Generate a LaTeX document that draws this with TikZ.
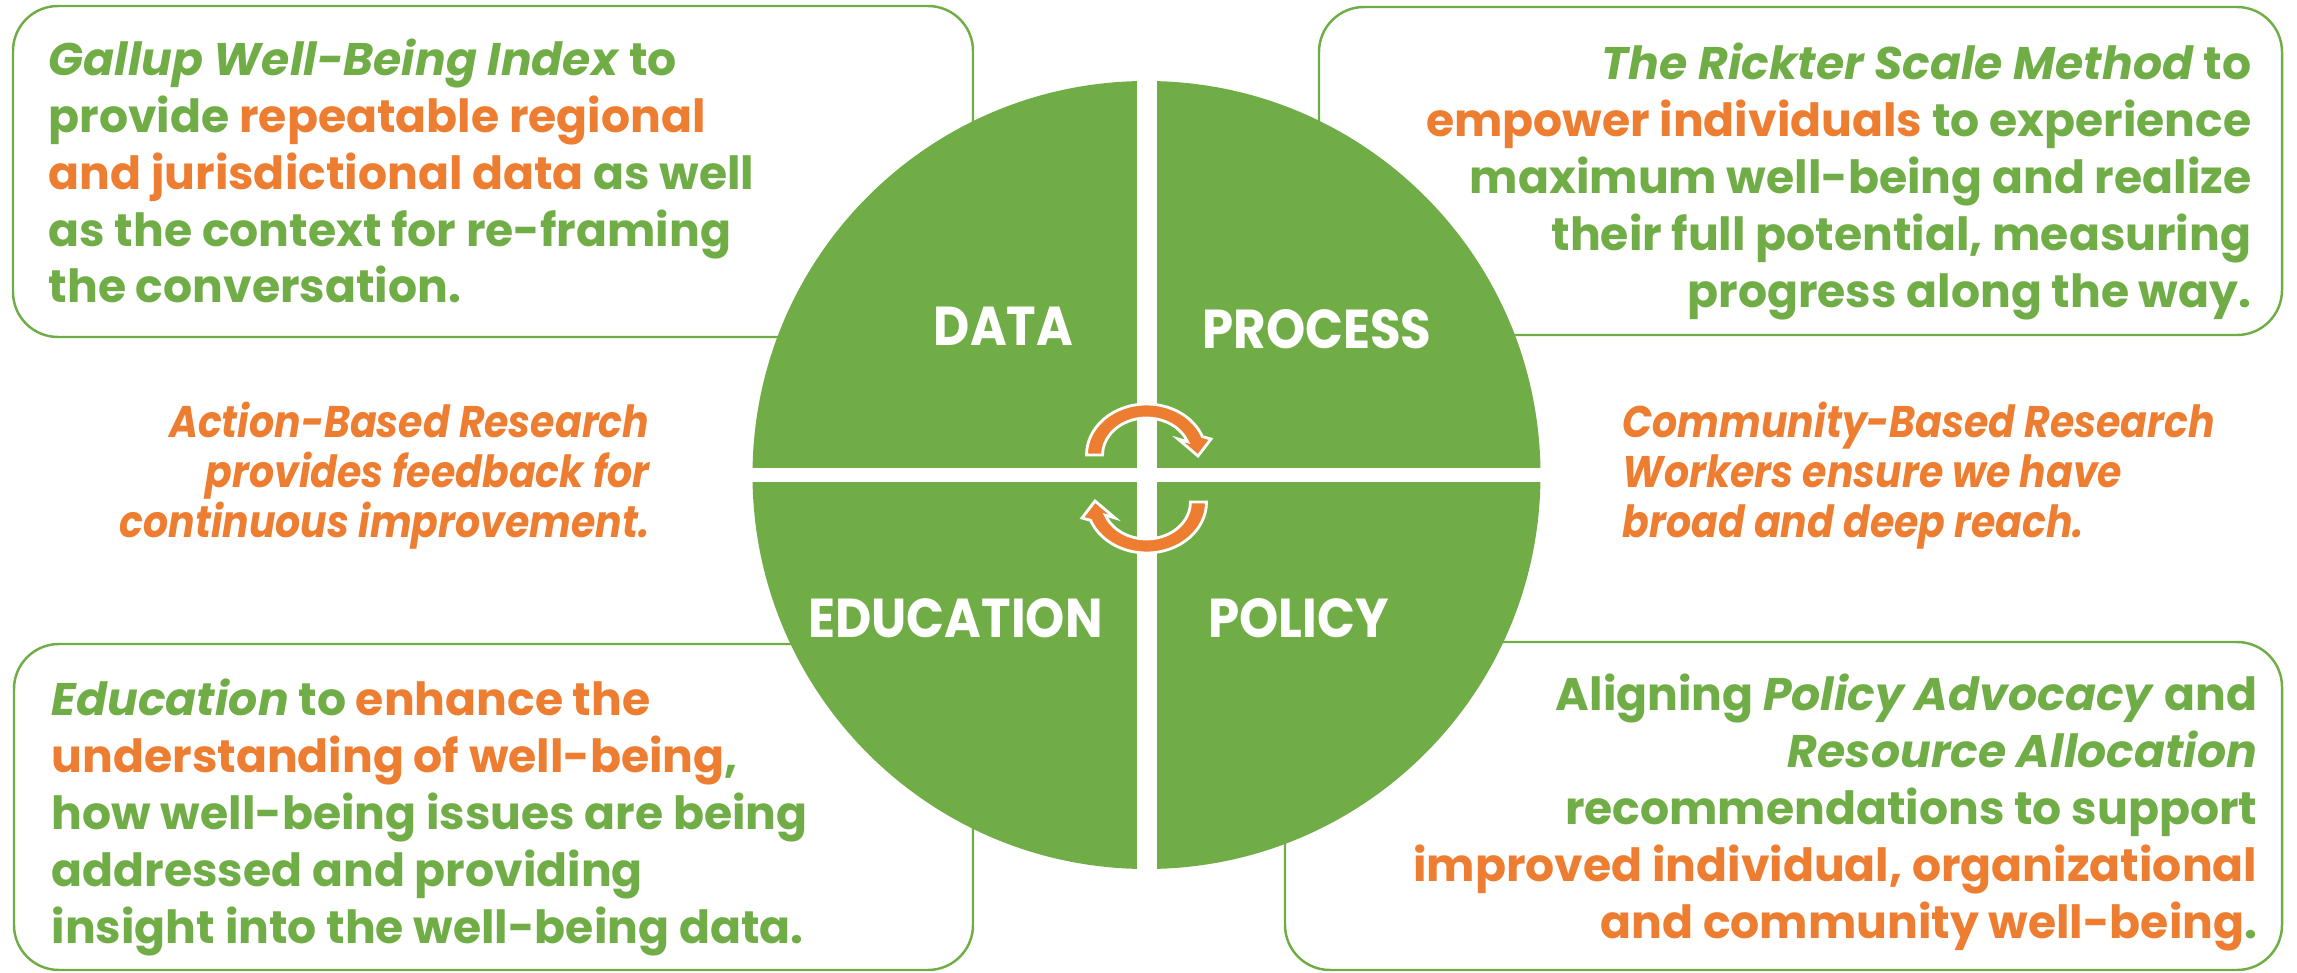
\documentclass[tikz,border=0pt]{standalone}
\usepackage{fontspec}
\setmainfont{Poppins}
\usetikzlibrary{positioning}

\definecolor{leaf}{HTML}{70AD47}
\definecolor{ember}{HTML}{ED7D31}
\newcommand{\hot}[1]{\textcolor{ember}{#1}}

\tikzset{
  panel/.style={draw=leaf, line width=0.7pt, rounded corners=0.45cm},
  blurb/.style={text=leaf, inner sep=0pt, font=\bfseries\fontsize{13}{16.2}\selectfont},
  aside/.style={text=ember, inner sep=0pt,
    font=\bfseries\itshape\fontsize{12.6}{14.2}\selectfont\addfontfeatures{FakeStretch=0.89}},
  quarter/.style={text=white, inner sep=0pt,
    font=\bfseries\fontsize{15.6}{18}\selectfont\addfontfeatures{FakeStretch=0.91}},
  turn/.style={fill=ember, draw=white, line width=0.8pt},
  pics/turnarrow/.style={code={
    \draw[turn] (-0.60,0.235) arc[start angle=180,end angle=21,x radius=0.60,y radius=0.51]
      -- (0.645,0.395) -- (0.515,0.225) -- (0.315,0.395) -- (0.411,0.3675)
      arc[start angle=21,end angle=180,x radius=0.44,y radius=0.37] -- cycle;
  }},
}

\begin{document}
\begin{tikzpicture}
  \useasboundingbox (0,0) rectangle (22.97,9.72);

  % the four text panels
  \draw[panel] (0.13,6.35) rectangle (9.73,9.66);
  \draw[panel] (13.19,6.37) rectangle (22.82,9.65);
  \draw[panel] (0.14,0.02) rectangle (9.73,3.28);
  \draw[panel] (12.85,0.02) rectangle (22.82,3.30);

  % wheel split into quarters
  \coordinate (hub) at (11.465,4.97);
  \fill[leaf] (hub) circle (3.94);
  \draw[white, line width=0.2cm] (11.465,9.0) -- (11.465,0.9);
  \draw[white, line width=0.14cm] (7.4,4.97) -- (15.5,4.97);

  \node[quarter, anchor=base] (data) at (10.035,6.26) {DATA};
  \node[quarter, anchor=base] (process) at (13.17,6.23) {PROCESS};
  \node[quarter, anchor=base] (education) at (9.555,3.35) {EDUCATION};
  \node[quarter, anchor=base] (policy) at (12.985,3.35) {POLICY};

  % cycle arrows in the middle
  \pic (upturn) at (11.465,4.935) {turnarrow};
  \pic[rotate=180] (downturn) at (11.465,4.935) {turnarrow};

  % panel texts (base = last line)
  \node[blurb, align=left, anchor=base west] (gallup) at (0.48,6.69)
    {\textit{Gallup Well-Being Index} to\\
     provide \hot{repeatable regional}\\
     \hot{and jurisdictional data} as well\\
     as the context for re-framing\\
     the conversation.};
  \node[blurb, align=right, anchor=base east] (rickter) at (22.52,6.65)
    {\textit{The Rickter Scale Method} to\\
     \hot{empower individuals} to experience\\
     maximum well-being and realize\\
     their full potential, measuring\\
     progress along the way.};
  \node[blurb, align=left, anchor=base west] (teach) at (0.51,0.29)
    {\textit{Education} to \hot{enhance the}\\
     \hot{understanding of well-being},\\
     how well-being issues are being\\
     addressed and providing\\
     insight into the well-being data.};
  \node[blurb, align=right, anchor=base east] (advocacy) at (22.58,0.34)
    {Aligning \textit{Policy Advocacy} and\\
     \textit{Resource Allocation}\\
     recommendations to support\\
     \hot{improved individual, organizational}\\
     \hot{and community well-being}.};

  \node[aside, align=right, anchor=base east] (action) at (6.50,4.35)
    {Action-Based Research\\
     provides feedback for\\
     continuous improvement.};
  \node[aside, align=left, anchor=base west] (community) at (16.22,4.35)
    {Community-Based Research\\
     Workers ensure we have\\
     broad and deep reach.};
\end{tikzpicture}
\end{document}
